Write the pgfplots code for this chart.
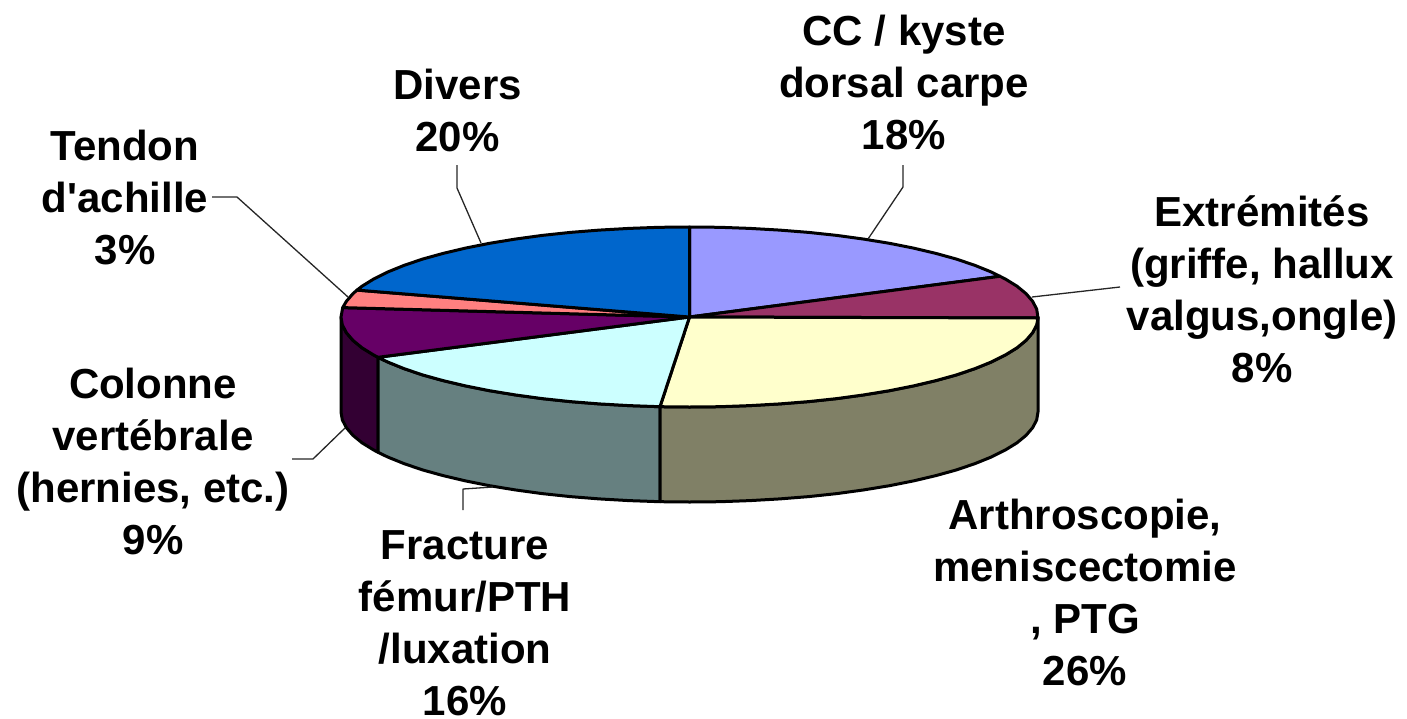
\documentclass[border=0pt]{standalone}
\usepackage{fontspec}
\setmainfont{Liberation Sans}
\usepackage{pgfplots}
\pgfplotsset{compat=1.18}
\definecolor{cCC}{HTML}{9999FF}
\definecolor{cEx}{HTML}{993366}
\definecolor{cAr}{HTML}{FFFFCC}
\definecolor{cFr}{HTML}{CCFFFF}
\definecolor{cCo}{HTML}{660066}
\definecolor{cTe}{HTML}{FF8080}
\definecolor{cDi}{HTML}{0066CC}
\definecolor{sAr}{HTML}{808066}
\definecolor{sFr}{HTML}{668080}
\definecolor{sCo}{HTML}{330033}
\begin{document}
\begin{tikzpicture}
\begin{axis}[
  width=1407pt, height=718pt, scale only axis,
  xmin=0, xmax=1407, ymin=0, ymax=718, y dir=reverse,
  hide axis, clip=false, axis equal=false,
  every axis plot/.append style={line join=round, line width=3pt, draw=black, mark=none},
]
\path (rel axis cs:0,0) rectangle (rel axis cs:1,1);
% sides
\addplot[fill=sCo] coordinates {(378,357.3)(373.7,355)(362,347.8)(352.9,340.3)(346.3,332.6)(342.3,324.8)(341,317)(341,412)(342.3,419.8)(346.3,427.6)(352.9,435.3)(362,442.8)(373.7,450)(378,452.3)} -- cycle;
\addplot[fill=sFr] coordinates {(660,406.7)(629,405.6)(599.3,403.9)(570.3,401.6)(542.2,398.6)(515.2,394.9)(489.6,390.7)(465.5,385.9)(443.1,380.6)(422.5,374.9)(404,368.6)(387.7,362)(378,357.3)(378,452.3)(387.7,457)(404,463.6)(422.5,469.9)(443.1,475.6)(465.5,480.9)(489.6,485.7)(515.2,489.9)(542.2,493.6)(570.3,496.6)(599.3,498.9)(629,500.6)(660,501.7)} -- cycle;
\addplot[fill=sAr] coordinates {(1038,317)(1036.7,324.8)(1032.7,332.6)(1026.1,340.3)(1017,347.8)(1005.3,355)(991.3,362)(975,368.6)(956.5,374.9)(935.9,380.6)(913.5,385.9)(889.4,390.7)(863.8,394.9)(836.8,398.6)(808.7,401.6)(779.7,403.9)(750,405.6)(719.9,406.7)(689.5,407)(660,406.7)(660,501.7)(689.5,502)(719.9,501.7)(750,500.6)(779.7,498.9)(808.7,496.6)(836.8,493.6)(863.8,489.9)(889.4,485.7)(913.5,480.9)(935.9,475.6)(956.5,469.9)(975,463.6)(991.3,457)(1005.3,450)(1017,442.8)(1026.1,435.3)(1032.7,427.6)(1036.7,419.8)(1038,412)} -- cycle;
% top faces
\addplot[fill=cCC] coordinates {(689.5,317)(689.5,227)(719.9,227.3)(750,228.4)(779.7,230.1)(808.7,232.4)(836.8,235.4)(863.8,239.1)(889.4,243.3)(913.5,248.1)(935.9,253.4)(956.5,259.1)(975,265.4)(991.3,272)(1000,276.3)} -- cycle;
\addplot[fill=cEx] coordinates {(689.5,317)(1000,276.3)(1005.3,279)(1017,286.2)(1026.1,293.7)(1032.7,301.4)(1036.7,309.2)(1038,318)} -- cycle;
\addplot[fill=cAr] coordinates {(689.5,317)(1038,318)(1036.7,324.8)(1032.7,332.6)(1026.1,340.3)(1017,347.8)(1005.3,355)(991.3,362)(975,368.6)(956.5,374.9)(935.9,380.6)(913.5,385.9)(889.4,390.7)(863.8,394.9)(836.8,398.6)(808.7,401.6)(779.7,403.9)(750,405.6)(719.9,406.7)(689.5,407)(660,406.7)} -- cycle;
\addplot[fill=cFr] coordinates {(689.5,317)(660,406.7)(629,405.6)(599.3,403.9)(570.3,401.6)(542.2,398.6)(515.2,394.9)(489.6,390.7)(465.5,385.9)(443.1,380.6)(422.5,374.9)(404,368.6)(387.7,362)(378,357.3)} -- cycle;
\addplot[fill=cCo] coordinates {(689.5,317)(378,357.3)(373.7,355)(362,347.8)(352.9,340.3)(346.3,332.6)(342.3,324.8)(341,317)(342.7,307.6)} -- cycle;
\addplot[fill=cTe] coordinates {(689.5,317)(342.7,307.6)(346.3,301.4)(352.9,293.7)(357,290.1)} -- cycle;
\addplot[fill=cDi] coordinates {(689.5,317)(357,290.1)(362,286.2)(373.7,279)(387.7,272)(404,265.4)(422.5,259.1)(443.1,253.4)(465.5,248.1)(489.6,243.3)(515.2,239.1)(542.2,235.4)(570.3,232.4)(599.3,230.1)(629,228.4)(659.1,227.3)(689.5,227)} -- cycle;
% leader lines
\addplot[line width=1.3pt, draw=black!85] coordinates {(457,165)(457,188)(481,243)};
\addplot[line width=1.3pt, draw=black!85] coordinates {(903,165)(903,187)(868,239)};
\addplot[line width=1.3pt, draw=black!85] coordinates {(1120,287)(1032,297)};
\addplot[line width=1.3pt, draw=black!85] coordinates {(212,197)(237,197)(348,297)};
\addplot[line width=1.3pt, draw=black!85] coordinates {(292,459)(313,459)(345,428)};
\addplot[line width=1.3pt, draw=black!85] coordinates {(463,510)(463,489)(493,487)};
% labels
\begin{scope}[every node/.style={align=center, font=\fontsize{42}{52}\selectfont\bfseries, inner sep=0pt, anchor=center}]
\node at (axis cs:904,82) {CC / kyste\\dorsal carpe\\18\%};
\node at (axis cs:457.5,110) {Divers\\20\%};
\node at (axis cs:125,198) {Tendon\\d\textquotesingle achille\\3\%};
\node at (axis cs:1262,289) {Extrémités\\(griffe, hallux\\valgus,ongle)\\8\%};
\node at (axis cs:153,461) {Colonne\\vertébrale\\(hernies, etc.)\\9\%};
\node at (axis cs:465,623) {Fracture\\fémur/PTH\\/luxation\\16\%};
\node at (axis cs:1085,592) {Arthroscopie,\\meniscectomie\\, PTG\\26\%};
\end{scope}
\end{axis}
\end{tikzpicture}
\end{document}
